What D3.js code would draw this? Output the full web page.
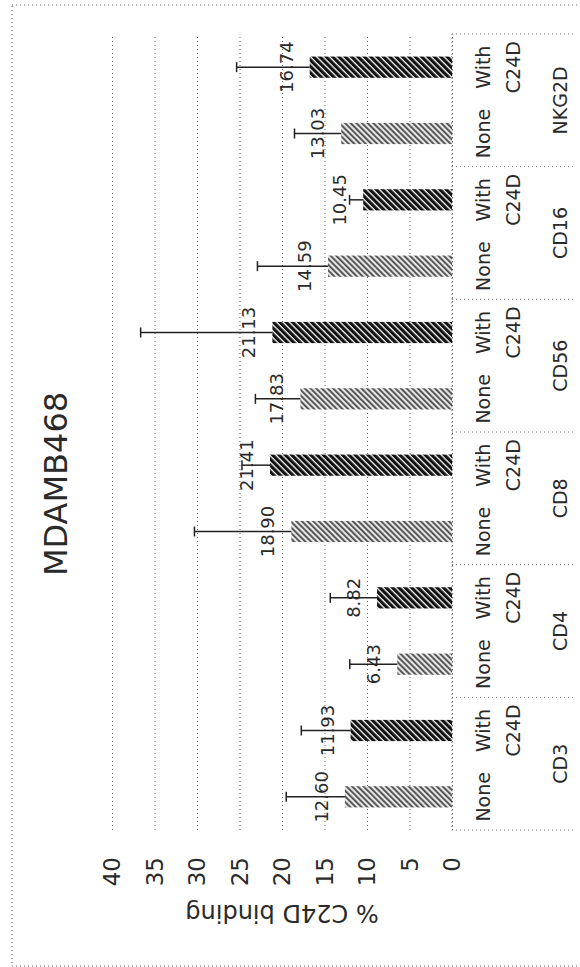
<!DOCTYPE html>
<html>
<head>
<meta charset="utf-8">
<script src="https://cdn.jsdelivr.net/npm/d3@7"></script>
<style>
  html, body { margin: 0; padding: 0; background: #fff; }
  svg { display: block; }
  text { font-family: "DejaVu Sans", sans-serif; fill: #2a2a2a; }
</style>
</head>
<body>
<svg id="chart" width="580" height="967"></svg>
<script>
// ---- data ----
const chartTitle = "MDAMB468";
const axisTitle = "% C24D binding";
const groups = ["CD3", "CD4", "CD8", "CD56", "CD16", "NKG2D"];
const treatments = ["None", "With C24D"];
const noneValues = [12.60, 6.43, 18.90, 17.83, 14.59, 13.03];
const withValues = [11.93, 8.82, 21.41, 21.13, 10.45, 16.74];
const noneErrors = [6.9, 5.6, 11.4, 5.3, 8.3, 5.5];
const withErrors = [5.8, 5.5, 3.3, 15.5, 1.6, 8.6];
const tickValues = [0, 5, 10, 15, 20, 25, 30, 35, 40];

const rows = [];
groups.forEach((g, i) => {
  rows.push({ group: g, treat: treatments[0], value: noneValues[i], err: noneErrors[i] });
  rows.push({ group: g, treat: treatments[1], value: withValues[i], err: withErrors[i] });
});

const svg = d3.select("#chart");

// patterns
const defs = svg.append("defs");
const pLight = defs.append("pattern").attr("id", "hatchLight")
  .attr("width", 4).attr("height", 4).attr("patternUnits", "userSpaceOnUse")
  .attr("patternTransform", "rotate(-45)");
pLight.append("rect").attr("width", 4).attr("height", 4).attr("fill", "#e6e6e6");
pLight.append("rect").attr("width", 1.8).attr("height", 4).attr("fill", "#4a4a4a");
const pDark = defs.append("pattern").attr("id", "hatchDark")
  .attr("width", 4.5).attr("height", 4.5).attr("patternUnits", "userSpaceOnUse")
  .attr("patternTransform", "rotate(-45)");
pDark.append("rect").attr("width", 4.5).attr("height", 4.5).attr("fill", "#ffffff");
pDark.append("rect").attr("width", 3.2).attr("height", 4.5).attr("fill", "#111");

// outer dotted frame
svg.append("rect").attr("x", 12).attr("y", 5).attr("width", 580).attr("height", 961)
  .attr("fill", "none").attr("stroke", "#555").attr("stroke-width", 1)
  .attr("stroke-dasharray", "1,3");

// scales
const x = d3.scaleLinear().domain([0, 40]).range([452, 112]);
const yTop = 34, yBot = 830;
const yGroup = d3.scaleBand().domain(groups).range([yBot, yTop]).padding(0);
const yInner = d3.scaleBand().domain(treatments).range([yGroup.bandwidth(), 0]).padding(0);
const barW = yInner.bandwidth() * 0.32;
const yCenter = d => yGroup(d.group) + yInner(d.treat) + yInner.bandwidth() / 2;

// gridlines (value axis)
const xAxis = d3.axisBottom(x).tickValues(tickValues).tickSize(-(yBot - yTop)).tickFormat("");
const gx = svg.append("g").attr("transform", `translate(0,${yBot})`).call(xAxis);
gx.select(".domain").remove();
gx.selectAll(".tick line").attr("stroke", "#666").attr("stroke-dasharray", "1,3").attr("stroke-width", 1);

// tick labels (rotated)
svg.append("g").selectAll("text").data(tickValues).join("text")
  .attr("transform", d => `translate(${x(d) + 8},857) rotate(-90)`)
  .attr("text-anchor", "end")
  .attr("font-size", 23)
  .text(d => d);

// axis title (upside down)
svg.append("text")
  .attr("transform", `translate(${x(20)},905) rotate(180)`)
  .attr("text-anchor", "middle").attr("font-size", 24)
  .text(axisTitle);

// chart title
svg.append("text")
  .attr("transform", `translate(67,${(yTop + yBot) / 2 + 52}) rotate(-90)`)
  .attr("text-anchor", "middle").attr("font-size", 32)
  .text(chartTitle);

// category table
const tbl = svg.append("g");
tbl.append("line").attr("x1", x(0)).attr("x2", x(0)).attr("y1", yTop).attr("y2", yBot)
  .attr("stroke", "#666").attr("stroke-dasharray", "1,3");
const seps = groups.map(g => yGroup(g)).concat([yBot]);
tbl.selectAll("line.sep").data(seps).join("line").attr("class", "sep")
  .attr("x1", x(0)).attr("x2", 573).attr("y1", d => d).attr("y2", d => d)
  .attr("stroke", "#777").attr("stroke-dasharray", "1,3");

rows.forEach(r => {
  const cy = yCenter(r);
  const words = r.treat.split(" ");
  words.forEach((w, i) => {
    tbl.append("text")
      .attr("transform", `translate(${490 + i * 30},${cy}) rotate(-90)`)
      .attr("text-anchor", "middle").attr("font-size", 19)
      .text(w);
  });
});
groups.forEach(g => {
  tbl.append("text")
    .attr("transform", `translate(567,${yGroup(g) + yGroup.bandwidth() / 2}) rotate(-90)`)
    .attr("text-anchor", "middle").attr("font-size", 19)
    .text(g);
});

// bars
svg.append("g").selectAll("rect").data(rows).join("rect")
  .attr("x", d => x(d.value))
  .attr("width", d => x(0) - x(d.value))
  .attr("y", d => yCenter(d) - barW / 2)
  .attr("height", barW)
  .attr("fill", d => d.treat === treatments[0] ? "url(#hatchLight)" : "url(#hatchDark)");

// data labels
svg.append("g").selectAll("text").data(rows).join("text")
  .attr("transform", d => `translate(${x(d.value) - 17},${yCenter(d)}) rotate(-90)`)
  .attr("text-anchor", "middle").attr("font-size", 18)
  .text(d => d.value.toFixed(2));

// error bars
const eb = svg.append("g").attr("stroke", "#222").attr("stroke-width", 1.5);
eb.selectAll("line.stem").data(rows).join("line").attr("class", "stem")
  .attr("x1", d => x(d.value)).attr("x2", d => x(d.value + d.err))
  .attr("y1", d => yCenter(d)).attr("y2", d => yCenter(d));
eb.selectAll("line.cap").data(rows).join("line").attr("class", "cap")
  .attr("x1", d => x(d.value + d.err)).attr("x2", d => x(d.value + d.err))
  .attr("y1", d => yCenter(d) - 5).attr("y2", d => yCenter(d) + 5);
</script>
</body>
</html>
